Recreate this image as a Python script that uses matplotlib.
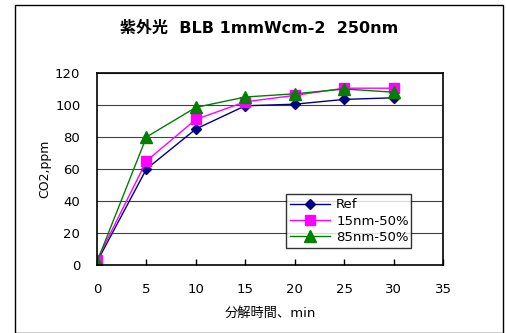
import matplotlib
matplotlib.use("Agg")
import matplotlib.pyplot as plt
from matplotlib.patches import Rectangle

plt.rcParams['font.family'] = ['DejaVu Sans', 'Noto Sans CJK JP']

minutes = [0, 5, 10, 15, 20, 25, 30]
ref = [2, 60, 85, 99.5, 100.5, 103.5, 104.5]
nm15 = [3, 65, 91, 102, 106, 110.5, 110.5]
nm85 = [2, 80, 98.5, 105, 107, 110, 108]
series_labels = ['Ref', '15nm-50%', '85nm-50%']
title = '紫外光  BLB 1mmWcm-2  250nm'
xlabel = '分解時間、min'
ylabel = 'CO2,ppm'

fig = plt.figure(figsize=(5.07, 3.33), dpi=100)
fig.patches.append(Rectangle((15/507, 0), (503-15)/507, (333-5)/333, transform=fig.transFigure,
                             fill=False, edgecolor='black', linewidth=1.0))
ax = fig.add_axes([97/507, 1-265/333, (443-97)/507, (265-73)/333])

ax.plot(minutes, ref, color='#000080', marker='D', markersize=5.5, linewidth=1.0, label=series_labels[0])
ax.plot(minutes, nm15, color='#FF00FF', marker='s', markersize=7.5, linewidth=1.0, label=series_labels[1])
ax.plot(minutes, nm85, color='#008000', marker='^', markersize=8.5, linewidth=1.0, label=series_labels[2])

ax.set_xlim(0, 35)
ax.set_ylim(0, 120)
ax.set_xticks(range(0, 36, 5))
ax.set_yticks(range(0, 121, 20))
ax.tick_params(axis='both', direction='in', labelsize=9.5, length=4, width=1, pad=13)
ax.tick_params(axis='y', pad=12, length=0)
for v in range(20, 121, 20):
    ax.axhline(v, color='#404040', linewidth=0.8, zorder=0)
for s in ax.spines.values():
    s.set_linewidth(1.2)
    s.set_color('black')
for lbl in ax.get_xticklabels() + ax.get_yticklabels():
    lbl.set_clip_on(False)

ax.set_xlabel(xlabel, fontsize=9.5, labelpad=8)
ax.set_ylabel(ylabel, fontsize=9, labelpad=3)
fig.text(259/507, 1-28/333, title, ha='center', va='center', fontsize=11.5, fontweight='bold')

leg = ax.legend(loc='lower left', bbox_to_anchor=((286-97)/346, (265-248)/192, (411-286)/346, (248-180)/192),
                mode='expand', fontsize=9.5, frameon=True, fancybox=False, borderaxespad=0,
                handlelength=3, labelspacing=0.25, borderpad=0.3, handletextpad=0.5)
leg.get_frame().set_edgecolor('black')
leg.get_frame().set_linewidth(1.0)

fig.savefig('out.png', dpi=100)
